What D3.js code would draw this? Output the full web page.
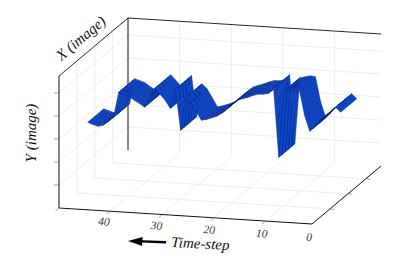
<!DOCTYPE html>
<html>
<head>
<meta charset="utf-8">
<script src="https://d3js.org/d3.v7.min.js"></script>
<style>
    html, body { margin: 0; padding: 0; background: #fff; }
    svg { display: block; }
    text { font-family: "Liberation Serif", serif; font-style: italic; }
</style>
</head>
<body>
<script>
var width = 407,
    height = 266;

// Tick values and labels
var timeTicks = [1, 10, 20, 30, 40, 50];
var timeLabels = ["0", "10", "20", "30", "40", ""];
var xTicks = [1, 2, 3];
var yTicks = [1, 2, 3, 4, 5];

// Width positions of the ribbon along the X (image) axis
var ribbonX = [1.60, 1.78, 1.96, 2.14, 2.32, 2.50];

// Y (image) value at every time step, time step 1 first
var ribbonY = [3.81, 4.01, 3.80, 3.59, 3.40, 3.13, 2.90, 3.58, 4.65, 4.68,
    4.62, 4.57, 1.68, 4.67, 4.43, 4.38, 4.37, 4.30, 4.20, 4.13,
    4.04, 3.86, 3.65, 3.44, 3.30, 3.21, 3.13, 3.08, 3.46, 3.83,
    4.03, 2.59, 4.36, 3.51, 3.85, 4.10, 4.34, 3.98, 3.49, 3.65,
    3.76, 3.92, 4.00, 4.07, 2.97, 2.78, 2.59, 2.53, 2.60, 2.68];

// Scales give the distance in pixels along each edge of the box
var timeScale = d3.scaleLinear().domain([1, 50]).range([0, 253]);
var xScale = d3.scaleLinear().domain([0, 3.85]).range([0, 1]);
var yScale = d3.scaleLinear().domain([0, 5.74]).range([0, 132]);

// Parallel projection of a (time, x, y) point on the screen
function project(t, x, y) {
    var d = timeScale(t) / 253,
        f = xScale(x);
    return [312 - 253 * d + 69 * f, 224 - 16 * d - 58 * f - yScale(y)];
}

var tMin = 1, tMax = 50, xMax = 3.85, yMax = 5.74;

var svg = d3.select("body").append("svg")
    .attr("width", width)
    .attr("height", height);

function drawLine(a, b, color, w) {
    svg.append("line")
        .attr("x1", a[0]).attr("y1", a[1])
        .attr("x2", b[0]).attr("y2", b[1])
        .attr("stroke", color)
        .attr("stroke-width", w);
}

var gridColor = "#e8e8e8";

// Grid lines along time on the back wall and on the floor
yTicks.forEach(function(v) {
    drawLine(project(tMax, xMax, v), project(tMin, xMax, v), gridColor, 0.8);
    drawLine(project(tMax, xMax, v), project(tMax, 0, v), gridColor, 0.8);
});
timeTicks.slice(1, 5).forEach(function(t) {
    drawLine(project(t, 0, 0), project(t, xMax, 0), gridColor, 0.8);
    drawLine(project(t, xMax, 0), project(t, xMax, yMax), gridColor, 0.8);
});
xTicks.forEach(function(x) {
    drawLine(project(tMin, x, 0), project(tMax, x, 0), gridColor, 0.8);
    drawLine(project(tMax, x, 0), project(tMax, x, yMax), gridColor, 0.8);
});

// Box edges
var edge = "#111";
drawLine(project(tMax, 0, 0), project(tMin, 0, 0), edge, 1);
drawLine(project(tMin, 0, 0), project(tMin, xMax, 0), edge, 1);
drawLine(project(tMax, 0, 0), project(tMax, 0, yMax), edge, 1);
drawLine(project(tMax, 0, yMax), project(tMax, xMax, yMax), edge, 0.9);
drawLine(project(tMax, xMax, yMax), project(tMin, xMax, yMax), edge, 0.9);
drawLine(project(tMax, xMax, 0), project(tMax, xMax, yMax), edge, 1);

// Tick marks
function drawTick(p, dx, dy) {
    drawLine(p, [p[0] + dx, p[1] + dy], "#666", 0.6);
}
timeTicks.forEach(function(t) { if (t > 1) drawTick(project(t, 0, 0), -3.5, 3); });
xTicks.forEach(function(x) { drawTick(project(tMin, x, 0), 4.5, 0.3); });
yTicks.forEach(function(v) { drawTick(project(tMax, 0, v), -5, 0); });

// Surface cells, painted from the far end to the near end
var cells = [];
for (var i = ribbonY.length - 2; i >= 0; i--) {
    for (var j = ribbonX.length - 2; j >= 0; j--) {
        cells.push([
            project(i + 1, ribbonX[j], ribbonY[i]),
            project(i + 2, ribbonX[j], ribbonY[i + 1]),
            project(i + 2, ribbonX[j + 1], ribbonY[i + 1]),
            project(i + 1, ribbonX[j + 1], ribbonY[i])
        ]);
    }
}

svg.append("g")
    .selectAll("path")
    .data(cells)
    .enter()
    .append("path")
    .attr("d", function(d) { return "M" + d.join("L") + "Z"; })
    .attr("fill", "#0b45c8")
    .attr("stroke", "#0a2270")
    .attr("stroke-width", 0.4);

// Time tick labels
timeTicks.forEach(function(t, i) {
    if (timeLabels[i] == "") return;
    var p = project(t, 0, 0);
    svg.append("text")
        .attr("transform", "translate(" + (p[0] - 3 - 0.1 * t) + "," + (p[1] + 17 - 0.07 * t) + ") rotate(4)")
        .attr("text-anchor", "middle")
        .attr("font-size", 11.5)
        .attr("fill", "#333")
        .text(timeLabels[i]);
});

// Axis titles
svg.append("text")
    .attr("transform", "translate(84,42) rotate(-40)")
    .attr("text-anchor", "middle")
    .attr("font-size", 15)
    .attr("fill", "#111")
    .text("X (image)");

svg.append("text")
    .attr("transform", "translate(36,133) rotate(-90)")
    .attr("text-anchor", "middle")
    .attr("font-size", 15)
    .attr("fill", "#111")
    .text("Y (image)");

svg.append("text")
    .attr("transform", "translate(171,247) rotate(3)")
    .attr("font-size", 15)
    .attr("fill", "#111")
    .text("Time-step");

// Arrow next to the time title
svg.append("path")
    .attr("d", "M166,243.4L142,242.6L142.3,246L128,241L142.7,237L142.4,240.2L166,240.9Z")
    .attr("fill", "#000");
</script>
</body>
</html>
